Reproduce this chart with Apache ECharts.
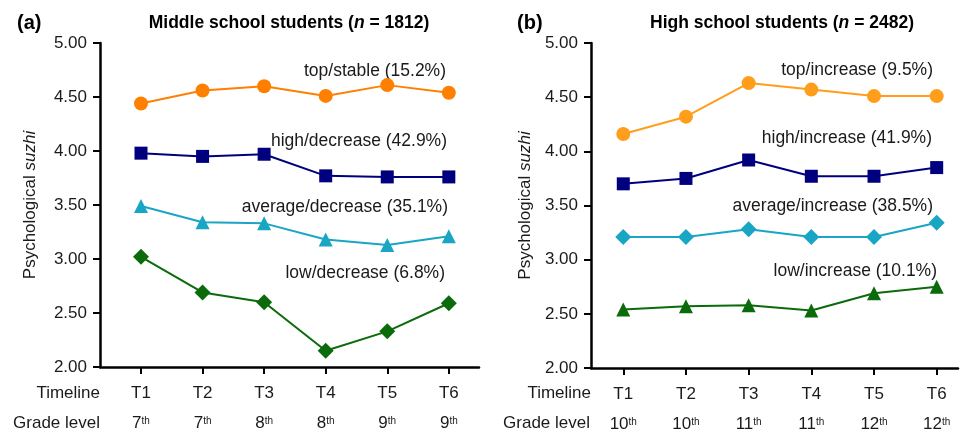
<!DOCTYPE html>
<html>
<head>
<meta charset="utf-8">
<script src="https://cdn.jsdelivr.net/npm/echarts@6/dist/echarts.min.js"></script>
<style>html,body{margin:0;padding:0;background:#fff}#c{width:960px;height:436px}</style>
</head>
<body>
<div id="c"></div>
<script>
const timeline = ['T1', 'T2', 'T3', 'T4', 'T5', 'T6'];
const gradesMiddle = ['7', '7', '8', '8', '9', '9'];
const gradesHigh = ['10', '10', '11', '11', '12', '12'];
const yTicks = [2.0, 2.5, 3.0, 3.5, 4.0, 4.5, 5.0];

const middleTop = [4.44, 4.56, 4.60, 4.51, 4.61, 4.54];
const middleHigh = [3.98, 3.95, 3.97, 3.77, 3.76, 3.76];
const middleAverage = [3.49, 3.34, 3.33, 3.18, 3.13, 3.21];
const middleLow = [3.02, 2.69, 2.60, 2.15, 2.33, 2.59];

const highTop = [4.16, 4.32, 4.63, 4.57, 4.51, 4.51];
const highHigh = [3.70, 3.75, 3.92, 3.77, 3.77, 3.85];
const highAverage = [3.21, 3.21, 3.28, 3.21, 3.21, 3.34];
const highLow = [2.54, 2.57, 2.58, 2.53, 2.69, 2.75];

const middleLabels = ['top/stable (15.2%)', 'high/decrease (42.9%)', 'average/decrease (35.1%)', 'low/decrease (6.8%)'];
const highLabels = ['top/increase (9.5%)', 'high/increase (41.9%)', 'average/increase (38.5%)', 'low/increase (10.1%)'];

const FONT = '"Liberation Sans", Arial, Helvetica, sans-serif';
const TXT = '#1a1a1a';
const C_ORANGE_L = '#FF7F00', C_ORANGE_R = '#FF9E1B', C_NAVY = '#00007F', C_CYAN = '#19A5C4', C_GREEN = '#0B6B0B';

function pts(arr) { return arr.map((v, i) => [i + 1, v]); }

function xAxisFor(gi, min, max, grades) {
  return {
    type: 'value', gridIndex: gi, min: min, max: max,
    splitLine: { show: false },
    axisLine: { show: true, lineStyle: { color: '#000', width: 2.5 } },
    axisTick: { show: true, customValues: [1, 2, 3, 4, 5, 6], length: 7, lineStyle: { color: '#000', width: 2 } },
    axisLabel: {
      show: true, customValues: [1, 2, 3, 4, 5, 6], margin: 11, fontFamily: FONT, color: TXT,
      formatter: v => '{t|' + timeline[v - 1] + '}\n{g|' + grades[v - 1] + '}{s|th}',
      rich: {
        t: { fontSize: 17, lineHeight: 30, fontFamily: FONT, color: TXT },
        g: { fontSize: 17, lineHeight: 30, fontFamily: FONT, color: TXT },
        s: { fontSize: 10, lineHeight: 12, verticalAlign: 'top', padding: [8, 0, 0, 0], fontFamily: FONT, color: TXT }
      }
    }
  };
}
function yAxisFor(gi, gap) {
  return {
    type: 'value', gridIndex: gi, min: 2, max: 5, interval: 0.5,
    splitLine: { show: false },
    axisLine: { show: true, lineStyle: { color: '#000', width: 2.5 } },
    axisTick: { show: true, length: 7, lineStyle: { color: '#000', width: 2 } },
    axisLabel: { margin: 13, fontSize: 17, fontFamily: FONT, color: TXT, formatter: v => v.toFixed(2) },
    name: 'Psychological {i|suzhi}', nameLocation: 'middle', nameGap: gap, nameRotate: 90,
    nameTextStyle: { fontSize: 17, fontFamily: FONT, color: TXT, padding: [0, 0, 0, 0],
      rich: { i: { fontStyle: 'italic', fontSize: 17, fontFamily: FONT, color: TXT } } }
  };
}
function series(gi, data, color, symbol, size) {
  return {
    type: 'line', xAxisIndex: gi, yAxisIndex: gi, data: pts(data),
    symbol: symbol, symbolSize: size, showAllSymbol: true,
    lineStyle: { color: color, width: 2 }, itemStyle: { color: color },
    emphasis: { disabled: true }, animation: false, z: 3
  };
}
function txt(x, y, text, align, extra) {
  return Object.assign({ type: 'text', x: x, y: y, silent: true,
    style: { text: text, fontSize: 17.5, fontFamily: FONT, fill: TXT, align: align, verticalAlign: 'middle' } }, extra || {});
}
function title(x, y, before, n, after) {
  return { type: 'text', x: x, y: y, silent: true,
    style: { text: '{b|' + before + '}{i|n}{b|' + after + '}', align: 'center', verticalAlign: 'middle',
      rich: { b: { fontSize: 17.5, fontWeight: 'bold', fontFamily: FONT, fill: '#000' },
              i: { fontSize: 17.5, fontWeight: 'bold', fontStyle: 'italic', fontFamily: FONT, fill: '#000' } } } };
}
function rowTitle(x, y, text) {
  return { type: 'text', x: x, y: y, silent: true,
    style: { text: text, fontSize: 17, fontFamily: FONT, fill: TXT, align: 'right', verticalAlign: 'middle' } };
}

const chart = echarts.init(document.getElementById('c'), null, { renderer: 'canvas' });
chart.setOption({
  animation: false,
  backgroundColor: '#fff',
  grid: [
    { left: 100, top: 43, width: 379, height: 324 },
    { left: 591, top: 43, width: 367, height: 325 }
  ],
  xAxis: [xAxisFor(0, 0.334, 6.49, gradesMiddle), xAxisFor(1, 0.485, 6.34, gradesHigh)],
  yAxis: [yAxisFor(0, 61), yAxisFor(1, 57)],
  series: [
    series(0, middleTop, C_ORANGE_L, 'circle', 14),
    series(0, middleHigh, C_NAVY, 'rect', 13),
    series(0, middleAverage, C_CYAN, 'triangle', 14),
    series(0, middleLow, C_GREEN, 'diamond', 16),
    series(1, highTop, C_ORANGE_R, 'circle', 14),
    series(1, highHigh, C_NAVY, 'rect', 13),
    series(1, highAverage, C_CYAN, 'diamond', 16),
    series(1, highLow, C_GREEN, 'triangle', 14)
  ],
  graphic: [
    { type: 'text', x: 17, y: 23, silent: true, style: { text: '(a)', fontSize: 20, fontWeight: 'bold', fontFamily: FONT, fill: '#000', align: 'left', verticalAlign: 'middle' } },
    { type: 'text', x: 517, y: 23, silent: true, style: { text: '(b)', fontSize: 20, fontWeight: 'bold', fontFamily: FONT, fill: '#000', align: 'left', verticalAlign: 'middle' } },
    title(289, 23, 'Middle school students (', 'n', ' = 1812)'),
    title(782, 23, 'High school students (', 'n', ' = 2482)'),
    txt(446, 71, middleLabels[0], 'right'),
    txt(447, 141, middleLabels[1], 'right'),
    txt(448, 207, middleLabels[2], 'right'),
    txt(445, 273, middleLabels[3], 'right'),
    txt(933, 70, highLabels[0], 'right'),
    txt(932, 138, highLabels[1], 'right'),
    txt(933, 206, highLabels[2], 'right'),
    txt(937, 271, highLabels[3], 'right'),
    rowTitle(100, 393, 'Timeline'),
    rowTitle(100, 423, 'Grade level'),
    rowTitle(591, 393, 'Timeline'),
    rowTitle(590, 423, 'Grade level')
  ]
});
</script>
</body>
</html>
